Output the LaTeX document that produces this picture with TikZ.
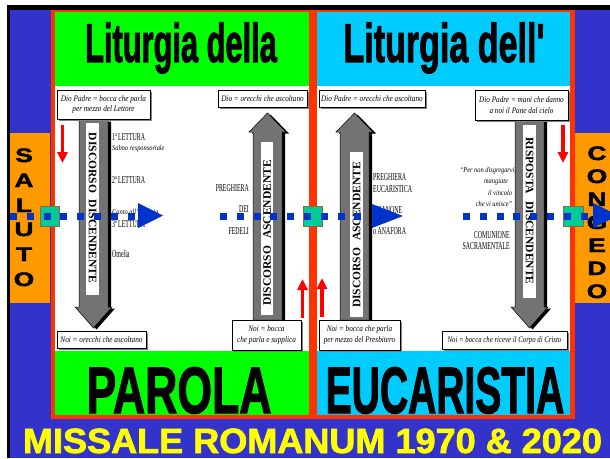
\documentclass[tikz,border=0pt]{standalone}
\usepackage{fontspec}
\setmainfont{Liberation Serif}
\newfontfamily\hv[Ligatures=TeXOff]{Liberation Sans}
\newfontfamily\hvheavy[Ligatures=TeXOff,FakeBold=2]{Liberation Sans Bold}
\usepackage{graphicx}
\usetikzlibrary{shadows,arrows.meta}
\definecolor{bgblue}{HTML}{3333CC}
\definecolor{orng}{HTML}{FF9900}
\definecolor{framered}{HTML}{FF3300}
\definecolor{grn}{HTML}{00FF00}
\definecolor{cyn}{HTML}{00CCFF}
\definecolor{yel}{HTML}{FFFF00}
\definecolor{dotblue}{HTML}{0033CC}
\definecolor{tealblk}{HTML}{00CC99}
\definecolor{brn}{HTML}{996633}
\definecolor{arrred}{HTML}{FF0000}
\newcommand\cz[2]{\scalebox{#1}[1]{#2}}
\newcommand\BigArrow[5]{%
 \fill[black,shift={(3,1.5)}] (#1,#3) -- (#2,#3) -- (#2,#4) -- (#2+4,#4) -- ({(#1+#2)/2},#5) -- (#1-4,#4) -- (#1,#4) -- cycle;
 \filldraw[shaftfill] (#1,#3) -- (#2,#3) -- (#2,#4) -- (#2+4,#4) -- ({(#1+#2)/2},#5) -- (#1-4,#4) -- (#1,#4) -- cycle;}
\begin{document}
\begin{tikzpicture}[x=1pt,y=-1pt,
  shaftfill/.style={fill=black!55, draw=black, line width=0.5pt},
  panelbox/.style={draw=black, line width=0.6pt, fill=white, inner sep=0pt, align=center,
     font=\fontsize{8.5}{10.5}\selectfont\itshape,
     drop shadow={shadow xshift=1.6pt, shadow yshift=-1.6pt, fill=black!50, opacity=1}},
  captxt/.style={font=\fontsize{10.5}{11}\selectfont, inner sep=0pt},
  itltxt/.style={font=\fontsize{7.5}{8}\selectfont\itshape, inner sep=0pt},
  vtxt/.style={font=\fontsize{11.5}{12}\selectfont\bfseries, inner sep=0pt},
  bigtitle/.style={font=\hvheavy\fontsize{54.5}{56}\selectfont, inner sep=0pt, anchor=base},
  bottitle/.style={font=\hvheavy\fontsize{65.6}{66}\selectfont, inner sep=0pt, anchor=base},
  sidelet/.style={font=\hvheavy\fontsize{19.5}{20}\selectfont, inner sep=0pt, anchor=base},
  redarrow/.style={arrred, line width=3.4pt, -{Triangle[width=10pt,length=11pt]}},
  dotline/.style={dotblue, line width=7pt, dash pattern=on 7pt off 9.8pt},
  tblock/.style={fill=tealblk, draw=brn, line width=0.8pt},
  whitestrip/.style={fill=white}
]
\useasboundingbox (0,0) rectangle (610,458);
\clip (0,0) rectangle (610,458);
% background
\fill[white] (0,0) rectangle (610,458);
\fill[black] (7,5) rectangle (610,458);
\fill[bgblue] (10,10) rectangle (610,458);
\fill[orng] (10,133) rectangle (50,303);
\fill[orng] (573,133) rectangle (610,303);
% frame
\fill[framered] (51,10) rectangle (575,419);
\fill[grn] (55,12) rectangle (309,86);
\fill[white] (55,86) rectangle (309,351);
\fill[grn] (55,351) rectangle (309,415);
\fill[cyn] (317,12) rectangle (570,86);
\fill[white] (317,86) rectangle (570,351);
\fill[cyn] (317,351) rectangle (570,415);
% titles
\node[bigtitle] (t1) at (181,62) {\cz{0.565}{Liturgia della}};
\node[bigtitle] (t2) at (444,62) {\cz{0.625}{Liturgia dell'}};
\node[bottitle] (b1) at (179,413) {\cz{0.68}{PAROLA}};
\node[bottitle] (b2) at (445,413) {\cz{0.595}{EUCARISTIA}};
\node[font=\hvheavy\fontsize{35}{36}\selectfont, inner sep=0pt, text depth=0pt, anchor=base, text=yel] (ms) at (312.5,453) {\cz{1.03}{MISSALE ROMANUM 1970 \& 2020}};
% side letters
\foreach \l/\yy [count=\i] in {S/162,A/187,L/212,U/236,T/261,O/286}
  \node[sidelet] (sl\i) at (24,\yy) {\cz{1.35}{\l}};
\foreach \l/\yy [count=\i] in {C/160,O/183,N/206,G/229,E/252,D/275,O/298}
  \node[sidelet] (sr\i) at (597,\yy) {\cz{1.35}{\l}};
% big arrows
\BigArrow{79}{108}{120}{307}{328}
\BigArrow{253}{282}{320}{132}{113}
\BigArrow{340}{369}{320}{132}{113}
\BigArrow{515}{544}{120}{307}{328}
\fill[whitestrip] (86,123) rectangle (99,295);
\fill[whitestrip] (261,142) rectangle (273,315);
\fill[whitestrip] (350,152) rectangle (363,317);
\fill[whitestrip] (523,125) rectangle (536,298);
\node[vtxt, rotate=-90] (v1) at (92.5,208) {DISCORSO\hspace{7pt}DISCENDENTE};
\node[vtxt, rotate=90] (v2) at (267,233) {DISCORSO\hspace{7pt}ASCENDENTE};
\node[vtxt, rotate=90] (v3) at (356.5,235) {DISCORSO\hspace{7pt}ASCENDENTE};
\node[vtxt, rotate=-90] (v4) at (529.5,211) {RISPOSTA\hspace{7pt}DISCENDENTE};
% boxes
\node[panelbox, minimum width=93pt, minimum height=29pt] (bx1) at (103.5,104.5) {\cz{0.85}{Dio Padre = bocca che parla}\\\cz{0.85}{per mezzo del Lettore}};
\node[panelbox, minimum width=89pt, minimum height=17pt] (bx2) at (262.5,99) {\cz{0.85}{Dio = orecchi che ascoltano}};
\node[panelbox, minimum width=89pt, minimum height=17pt] (bx3) at (101.5,339.5) {\cz{0.85}{Noi = orecchi che ascoltano}};
\node[panelbox, minimum width=69pt, minimum height=30pt] (bx4) at (266.5,335) {\cz{0.85}{Noi = bocca}\\\cz{0.85}{che parla e supplica}};
\node[panelbox, minimum width=106pt, minimum height=17pt] (bx5) at (372,99) {\cz{0.85}{Dio Padre = orecchi che ascoltano}};
\node[panelbox, minimum width=93pt, minimum height=30pt] (bx6) at (521.5,105) {\cz{0.85}{Dio Padre = mani che danno}\\\cz{0.85}{a noi il Pane dal cielo}};
\node[panelbox, minimum width=81pt, minimum height=30pt] (bx7) at (359.5,335) {\cz{0.85}{Noi = bocca che parla}\\\cz{0.85}{per mezzo del Presbitero}};
\node[panelbox, minimum width=125pt, minimum height=18pt] (bx8) at (504.5,340) {\cz{0.8}{Noi = bocca che riceve il Corpo di Cristo}};
% left texts
\node[captxt, anchor=west] (l1) at (112,137) {\cz{0.56}{1ª LETTURA}};
\node[itltxt, anchor=west] (l2) at (112,149) {\cz{0.85}{Salmo responsoriale}};
\node[captxt, anchor=west] (l3) at (112,180) {\cz{0.56}{2ª LETTURA}};
\node[itltxt, anchor=west] (l4) at (112,212) {\cz{0.85}{Canto all'Alleluia}};
\node[captxt, anchor=west] (l5) at (112,224) {\cz{0.56}{3ª LETTURA}};
\node[captxt, anchor=west] (l6) at (112,254) {\cz{0.56}{Omelia}};
\node[captxt, anchor=east] (p1) at (249,188) {\cz{0.56}{PREGHIERA}};
\node[captxt, anchor=east] (p2) at (249,209) {\cz{0.56}{DEI}};
\node[captxt, anchor=east] (p3) at (249,231) {\cz{0.56}{FEDELI}};
% right texts
\node[captxt, anchor=west] (e1) at (373,177) {\cz{0.56}{PREGHIERA}};
\node[captxt, anchor=west] (e2) at (373,189) {\cz{0.56}{EUCARISTICA}};
\node[captxt, anchor=west] (e3) at (373,210) {\cz{0.56}{o CANONE}};
\node[captxt, anchor=west] (e4) at (373,231) {\cz{0.56}{o ANAFORA}};
\node[itltxt] (q1) at (488,171) {\cz{0.85}{“Per non disgregarvi,}};
\node[itltxt] (q2) at (496,182) {\cz{0.85}{mangiate}};
\node[itltxt] (q3) at (500,193) {\cz{0.85}{il vincolo}};
\node[itltxt] (q4) at (494,204) {\cz{0.85}{che vi unisce”}};
\node[captxt, anchor=east] (c1) at (510,235) {\cz{0.56}{COMUNIONE}};
\node[captxt, anchor=east] (c2) at (510,246) {\cz{0.56}{SACRAMENTALE}};
% red arrows
\coordinate (ra1) at (62.5,125); \coordinate (ra2) at (62.5,163);
\coordinate (rb1) at (302.5,318); \coordinate (rb2) at (302.5,279);
\coordinate (rc1) at (322,317); \coordinate (rc2) at (322,278);
\coordinate (rd1) at (563,125); \coordinate (rd2) at (563,163);
\draw[redarrow] (ra1) -- (ra2);
\draw[redarrow] (rb1) -- (rb2);
\draw[redarrow] (rc1) -- (rc2);
\draw[redarrow] (rd1) -- (rd2);
% teal blocks
\draw[tblock] (40,206) rectangle (59,226);
\draw[tblock] (303,206) rectangle (322,226);
\draw[tblock] (563,206) rectangle (583,226);
% blue dotted arrows
\coordinate (da1) at (10,216); \coordinate (da2) at (135,216);
\coordinate (db1) at (220,216); \coordinate (db2) at (362,216);
\coordinate (dc1) at (463,216); \coordinate (dc2) at (588,216);
\draw[dotline] (da1) -- (da2);
\draw[dotline] (db1) -- (db2);
\draw[dotline] (dc1) -- (dc2);
\fill[dotblue] (138,203) -- (163,215.5) -- (138,228) -- cycle;
\fill[dotblue] (372,204) -- (403,216) -- (372,228) -- cycle;
\fill[dotblue] (593,203) -- (618,215.5) -- (593,228) -- cycle;
\end{tikzpicture}
\end{document}
